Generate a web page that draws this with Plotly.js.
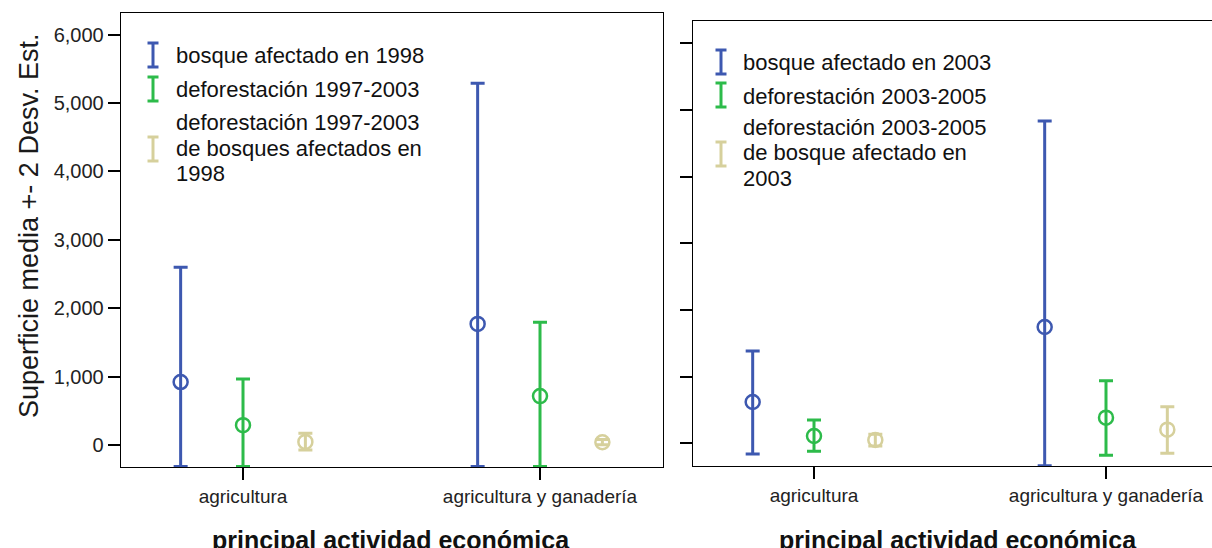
<!DOCTYPE html>
<html>
<head>
<meta charset="utf-8">
<script src="https://cdn.plot.ly/plotly-3.0.1.min.js"></script>
<style>html,body{margin:0;padding:0;background:#fff;}#chart{width:1212px;height:548px;}</style>
</head>
<body>
<div id="chart"></div>
<script>
// ---- data ----
const categories = ["agricultura", "agricultura y ganadería"];
const yTickVals = [0, 1000, 2000, 3000, 4000, 5000, 6000];

// Left panel (1997-2003)
const leftNames = ["bosque afectado en 1998", "deforestación 1997-2003", "deforestación 1997-2003|de bosques afectados en|1998"];
const leftMean  = [[920, 1770], [290, 715], [45, 40]];
const leftUpper = [[2600, 5290], [965, 1795], [170, 80]];
const leftLower = [[-315, -315], [-315, -315], [-75, 5]];

// Right panel (2003-2005)
const rightNames = ["bosque afectado en 2003", "deforestación 2003-2005", "deforestación 2003-2005|de bosque afectado en|2003"];
const rightMean  = [[620, 1745], [110, 385], [50, 205]];
const rightUpper = [[1385, 4835], [350, 940], [135, 550]];
const rightLower = [[-160, -335], [-120, -180], [-40, -150]];

const colors = ["#3D58B0", "#2DBB4A", "#D6D09C"];
const offsets = [-0.21, 0, 0.21];

// ---- helpers (pixel -> paper for decorations) ----
const W = 1212, H = 548;
const px = x => x / W;
const py = y => 1 - y / H;

function buildTraces(mean, upper, lower, xa, ya) {
  return mean.map((m, s) => ({
    type: "scatter", mode: "markers", xaxis: xa, yaxis: ya, showlegend: false,
    x: categories.map((c, i) => i + offsets[s]),
    y: m,
    marker: {symbol: "circle-open", size: 14, color: colors[s], line: {width: 2.5, color: colors[s]}},
    error_y: {type: "data", symmetric: false,
      array: m.map((v, i) => upper[s][i] - v),
      arrayminus: m.map((v, i) => v - lower[s][i]),
      color: colors[s], thickness: 3, width: 7},
    hoverinfo: "skip"
  }));
}

const traces = [
  ...buildTraces(leftMean, leftUpper, leftLower, "x", "y"),
  ...buildTraces(rightMean, rightUpper, rightLower, "x2", "y2")
];

const font = "Liberation Sans, Arial, sans-serif";
const axBase = {showgrid: false, zeroline: false, showline: true, linecolor: "#000", linewidth: 1.3,
  ticks: "outside", ticklen: 12, tickwidth: 2, tickcolor: "#000", fixedrange: true};

const layout = {
  width: W, height: H, margin: {l: 0, r: 0, t: 0, b: 0},
  paper_bgcolor: "#fff", plot_bgcolor: "#fff", showlegend: false,
  xaxis: Object.assign({}, axBase, {domain: [px(121), px(663)], range: [-0.4108, 1.4141], mirror: true,
    tickvals: [0, 1], ticktext: categories, tickfont: {family: font, size: 19, color: "#222"}, anchor: "y"}),
  yaxis: Object.assign({}, axBase, {domain: [py(467), py(13)], range: [-322, 6316], mirror: true,
    tickvals: yTickVals, tickformat: ",d", tickfont: {family: font, size: 20, color: "#222"}, anchor: "x"}),
  xaxis2: Object.assign({}, axBase, {domain: [px(693), 1], range: [-0.4144, 1.363], mirror: true,
    tickvals: [0, 1], ticktext: categories, tickfont: {family: font, size: 19, color: "#222"}, anchor: "y2"}),
  yaxis2: Object.assign({}, axBase, {domain: [py(466), py(21)], range: [-340, 6334],
    tickvals: yTickVals, showticklabels: false, anchor: "x2"}),
  shapes: [],
  annotations: []
};

// axis titles
layout.annotations.push({xref: "paper", yref: "paper", x: px(29), y: py(226), text: "Superficie media +- 2 Desv. Est.",
  textangle: -90, showarrow: false, xanchor: "center", yanchor: "middle", font: {family: font, size: 27, color: "#1a1a1a"}});
layout.annotations.push({xref: "paper", yref: "paper", x: px(391), y: py(540), text: "principal actividad económica",
  showarrow: false, xanchor: "center", yanchor: "middle", font: {family: font, size: 25, color: "#111", weight: "bold"}});
layout.annotations.push({xref: "paper", yref: "paper", x: px(958), y: py(540), text: "principal actividad económica",
  showarrow: false, xanchor: "center", yanchor: "middle", font: {family: font, size: 25, color: "#111", weight: "bold"}});

// custom legends
function legend(names, glyphX, textX, glyphYs, lineYs) {
  names.forEach((n, s) => {
    const [y0, y1] = glyphYs[s];
    const c = colors[s];
    layout.shapes.push({type: "line", xref: "paper", yref: "paper", x0: px(glyphX), x1: px(glyphX), y0: py(y0), y1: py(y1), line: {color: c, width: 3}});
    layout.shapes.push({type: "line", xref: "paper", yref: "paper", x0: px(glyphX - 5.5), x1: px(glyphX + 5.5), y0: py(y0), y1: py(y0), line: {color: c, width: 3}});
    layout.shapes.push({type: "line", xref: "paper", yref: "paper", x0: px(glyphX - 5.5), x1: px(glyphX + 5.5), y0: py(y1), y1: py(y1), line: {color: c, width: 3}});
    n.split("|").forEach((line, k) => {
      layout.annotations.push({xref: "paper", yref: "paper", x: px(textX), y: py(lineYs[s][k]), text: line,
        showarrow: false, xanchor: "left", yanchor: "middle", font: {family: font, size: 22, color: "#111"}});
    });
  });
}
legend(leftNames, 153, 174, [[43, 67], [77, 101], [137, 161]], [[55], [89], [123, 148, 173]]);
legend(rightNames, 721, 741, [[50, 74], [83, 107], [142, 166]], [[62], [96], [128, 153, 178]]);

Plotly.newPlot("chart", traces, layout, {displayModeBar: false, staticPlot: true});
</script>
</body>
</html>
